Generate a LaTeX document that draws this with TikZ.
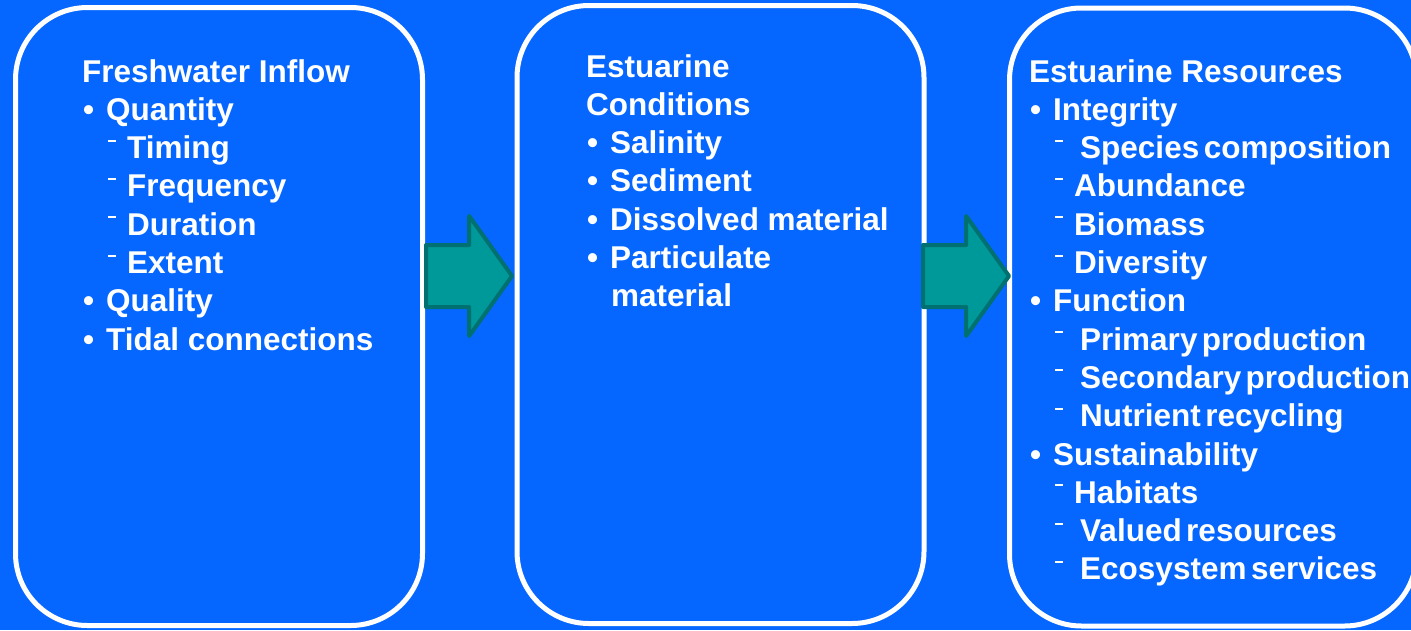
\documentclass[tikz,border=0pt]{standalone}
\usepackage{fontspec}
\setmainfont{Liberation Sans}
\usetikzlibrary{shapes.arrows}
\definecolor{bgblue}{RGB}{5,103,255}
\definecolor{tealfill}{RGB}{0,153,153}
\definecolor{tealedge}{RGB}{0,112,112}
\newcommand{\bul}[1]{\makebox[24pt][l]{\hspace*{1pt}\textbullet}#1}
\newcommand{\subd}[2]{\hspace*{26pt}\rule[17pt]{8pt}{2pt}\hspace*{#1}#2}
\newcommand{\tight}[1]{{\spaceskip=4.5pt\relax #1}}
\tikzset{
  panel/.style={draw=white, line width=5pt, fill=bgblue, rounded corners=72pt,
    minimum width=407pt, minimum height=618pt, inner sep=0pt},
  blockarrow/.style={single arrow, draw=tealedge, fill=tealfill, line width=4pt,
    line join=round, single arrow head extend=29pt, single arrow tip angle=109,
    single arrow head indent=0pt, minimum height=86pt, inner xsep=0pt, inner ysep=29pt,
    anchor=tail},
  listtext/.style={anchor=base west, inner sep=0pt, text=white, font=\bfseries}
}
\begin{document}
\begin{tikzpicture}[x=1pt,y=-1pt]
\useasboundingbox (0,0) rectangle (1411,630);
\clip (0,0) rectangle (1411,630);
\fill[bgblue] (0,0) rectangle (1411,630);
\node[panel] (b1) at (219,316.5) {};
\node[panel] (b2) at (720.5,314.5) {};
\node[panel] (b3) at (1213,317) {};
\node[blockarrow] (a1) at (424,276) {};
\node[blockarrow] (a2) at (921,276) {};
\node[listtext] (t1) at (82,82) {\begin{minipage}[t]{340pt}\fontsize{31.5}{38.3}\selectfont\bfseries
Freshwater Inflow\\
\bul{Quantity}\\
\subd{11pt}{Timing}\\
\subd{11pt}{Frequency}\\
\subd{11pt}{Duration}\\
\subd{11pt}{Extent}\\
\bul{Quality}\\
\bul{Tidal connections}
\end{minipage}};
\node[listtext] (t2) at (586,77) {\begin{minipage}[t]{340pt}\fontsize{31.5}{38.3}\selectfont\bfseries
Estuarine\\
Conditions\\
\bul{Salinity}\\
\bul{Sediment}\\
\bul{Dissolved material}\\
\bul{Particulate}\\
\hspace*{25pt}material
\end{minipage}};
\node[listtext] (t3) at (1029,82) {\begin{minipage}[t]{420pt}\fontsize{31.5}{38.3}\selectfont\bfseries
Estuarine Resources\\
\bul{Integrity}\\
\subd{17pt}{\tight{Species composition}}\\
\subd{11pt}{Abundance}\\
\subd{11pt}{Biomass}\\
\subd{11pt}{Diversity}\\
\bul{Function}\\
\subd{17pt}{\tight{Primary production}}\\
\subd{17pt}{\tight{Secondary production}}\\
\subd{17pt}{\tight{Nutrient recycling}}\\
\bul{Sustainability}\\
\subd{11pt}{Habitats}\\
\subd{17pt}{\tight{Valued resources}}\\
\subd{17pt}{\tight{Ecosystem services}}
\end{minipage}};
\end{tikzpicture}
\end{document}
